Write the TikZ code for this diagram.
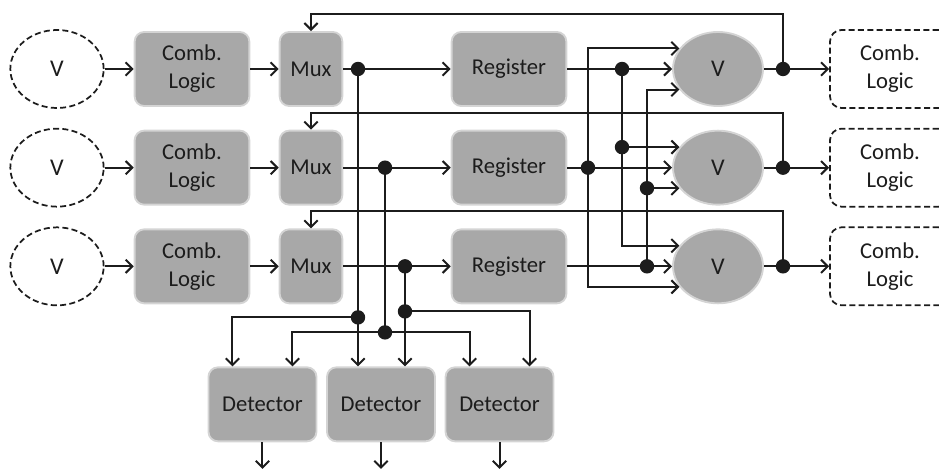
\documentclass[tikz,border=0pt]{standalone}
\usepackage{fontspec}
\setmainfont{Carlito}
\usepackage{xcolor}
\definecolor{tmrDark}{HTML}{1C1C1C}
\definecolor{tmrFill}{HTML}{A8A8A8}
\definecolor{tmrEdge}{HTML}{D4D4D4}
\usepackage{tikz}
\usetikzlibrary{shapes.geometric,arrows.meta,positioning,calc}
\tikzset{
    block/.style={
        draw=tmrEdge,
        fill=tmrFill,
        rectangle,
        rounded corners=2.5mm,
        align=center,
        minimum height=55.5pt,
        minimum width=86pt,
        inner sep=0pt,
        line width=1.4pt,
        text=tmrDark,
        font=\fontsize{17}{21}\selectfont
    },
    mux/.style={
        block,
        minimum width=47pt
    },
    detector/.style={
        block,
        minimum width=81pt
    },
    voter/.style={
        draw=tmrEdge,
        fill=tmrFill,
        ellipse,
        minimum width=67.5pt,
        minimum height=55.5pt,
        inner sep=0pt,
        line width=1.4pt,
        text=tmrDark,
        font=\fontsize{18}{21}\selectfont
    },
    spare/.style={
        draw=tmrDark,
        fill=white,
        ellipse,
        dash pattern=on 4.5pt off 2.5pt,
        minimum width=70pt,
        minimum height=58.5pt,
        inner sep=0pt,
        line width=1.3pt,
        text=tmrDark,
        font=\fontsize{18}{21}\selectfont
    },
    nextlogic/.style={
        draw=tmrDark,
        fill=white,
        rectangle,
        rounded corners=3mm,
        dash pattern=on 4.5pt off 2.5pt,
        align=center,
        minimum width=90pt,
        minimum height=58.5pt,
        inner sep=0pt,
        line width=1.3pt,
        text=tmrDark,
        font=\fontsize{17}{21}\selectfont
    },
    wire/.style={
        ->,
        >={Straight Barb[length=5pt,width=10pt]},
        line width=1.5pt,
        color=tmrDark
    }
}

\begin{document}
\begin{tikzpicture}[on grid]
    % Frame - same margins as the reference
    \clip (-42.75pt,51.75pt) rectangle (661.5pt,-300.75pt);

    % Row 1
    \node[spare] (sp1) {V};
    \node[block, right=101.25pt of sp1] (cl1) {Comb.\\Logic};
    \node[mux, right=89.25pt of cl1] (mux1) {Mux};
    \node[block, right=148.5pt of mux1] (reg1) {Register};
    \node[voter, right=156.75pt of reg1] (vot1) {V};
    \node[nextlogic, right=129pt of vot1] (nx1) {Comb.\\Logic};

    % Row 2
    \node[spare, below=74pt of sp1] (sp2) {V};
    \node[block, below=74pt of cl1] (cl2) {Comb.\\Logic};
    \node[mux, below=74pt of mux1] (mux2) {Mux};
    \node[block, below=74pt of reg1] (reg2) {Register};
    \node[voter, below=74pt of vot1] (vot2) {V};
    \node[nextlogic, below=74pt of nx1] (nx2) {Comb.\\Logic};

    % Row 3
    \node[spare, below=74pt of sp2] (sp3) {V};
    \node[block, below=74pt of cl2] (cl3) {Comb.\\Logic};
    \node[mux, below=74pt of mux2] (mux3) {Mux};
    \node[block, below=74pt of reg2] (reg3) {Register};
    \node[voter, below=74pt of vot2] (vot3) {V};
    \node[nextlogic, below=74pt of nx2] (nx3) {Comb.\\Logic};

    % Detectors
    \node[detector, below right=103.5pt and 52.5pt of mux3] (det2) {Detector};
    \node[detector, left=88.9pt of det2] (det1) {Detector};
    \node[detector, right=88.9pt of det2] (det3) {Detector};

    % Junctions
    \coordinate (j1) at ($(mux1)+(35.25pt,0)$);
    \coordinate (j2) at ($(mux2)+(55.5pt,0)$);
    \coordinate (j3) at ($(mux3)+(70.5pt,0)$);
    \coordinate (k1) at ($(reg1)+(84.75pt,0)$);
    \coordinate (k2) at ($(reg2)+(59.25pt,0)$);
    \coordinate (k3) at ($(reg3)+(103.5pt,0)$);
    \coordinate (k1b) at (k1 |- vot2.152);
    \coordinate (k3b) at (k3 |- vot2.208);
    \coordinate (o1) at ($(vot1)+(48.75pt,0)$);
    \coordinate (o2) at ($(vot2)+(48.75pt,0)$);
    \coordinate (o3) at ($(vot3)+(48.75pt,0)$);
    \coordinate (f1) at ($(mux1.north)+(0,12.75pt)$);
    \coordinate (f2) at ($(mux2.north)+(0,12.75pt)$);
    \coordinate (f3) at ($(mux3.north)+(0,12.75pt)$);
    \coordinate (t1) at ($(j1 |- det2.north)+(0,36.75pt)$);
    \coordinate (t2) at ($(j2 |- det2.north)+(0,25.5pt)$);
    \coordinate (t3) at ($(j3 |- det2.north)+(0,41.25pt)$);
    \coordinate (d1a) at ($(det1.north)+(-22.5pt,0)$);
    \coordinate (d1b) at ($(det1.north)+(22.5pt,0)$);
    \coordinate (d2a) at (j1 |- det2.north);
    \coordinate (d2b) at (j3 |- det2.north);
    \coordinate (d3a) at ($(det3.north)+(-22.5pt,0)$);
    \coordinate (d3b) at ($(det3.north)+(22.5pt,0)$);
    \coordinate (do1) at ($(det1.south)+(0,-20pt)$);
    \coordinate (do2) at ($(det2.south)+(0,-20pt)$);
    \coordinate (do3) at ($(det3.south)+(0,-20pt)$);

    % Forward path
    \draw[wire] (sp1) -- (cl1);
    \draw[wire] (cl1) -- (mux1);
    \draw[wire] (mux1) -- (reg1);
    \draw[wire] (reg1) -- (vot1);
    \draw[wire] (vot1) -- (nx1);
    \draw[wire] (sp2) -- (cl2);
    \draw[wire] (cl2) -- (mux2);
    \draw[wire] (mux2) -- (reg2);
    \draw[wire] (reg2) -- (vot2);
    \draw[wire] (vot2) -- (nx2);
    \draw[wire] (sp3) -- (cl3);
    \draw[wire] (cl3) -- (mux3);
    \draw[wire] (mux3) -- (reg3);
    \draw[wire] (reg3) -- (vot3);
    \draw[wire] (vot3) -- (nx3);

    % Register fan-out to the voters
    \draw[wire] (k1) |- (vot3.152);
    \draw[wire] (k1b) -- (vot2.152);
    \draw[wire] (k2) |- (vot1.152);
    \draw[wire] (k2) |- (vot3.208);
    \draw[wire] (k3) |- (vot1.208);
    \draw[wire] (k3b) -- (vot2.208);

    % Feedback to the muxes
    \draw[wire] (o1) |- (f1) -- (mux1);
    \draw[wire] (o2) |- (f2) -- (mux2);
    \draw[wire] (o3) |- (f3) -- (mux3);

    % Taps to the detectors
    \draw[wire] (j1) -- (d2a);
    \draw[wire] (t1) -| (d1a);
    \draw[wire, -] (j2) -- (t2);
    \draw[wire, <->] (d1b) |- (t2) -| (d3a);
    \draw[wire] (j3) -- (d2b);
    \draw[wire] (t3) -| (d3b);

    % Detector outputs
    \draw[wire] (det1) -- (do1);
    \draw[wire] (det2) -- (do2);
    \draw[wire] (det3) -- (do3);

    % Dots
    \fill[tmrDark] (j1) circle (5.4pt) (j2) circle (5.4pt) (j3) circle (5.4pt)
        (k1) circle (5.4pt) (k1b) circle (5.4pt) (k2) circle (5.4pt)
        (k3) circle (5.4pt) (k3b) circle (5.4pt)
        (o1) circle (5.4pt) (o2) circle (5.4pt) (o3) circle (5.4pt)
        (t1) circle (5.4pt) (t2) circle (5.4pt) (t3) circle (5.4pt);
\end{tikzpicture}
\end{document}
